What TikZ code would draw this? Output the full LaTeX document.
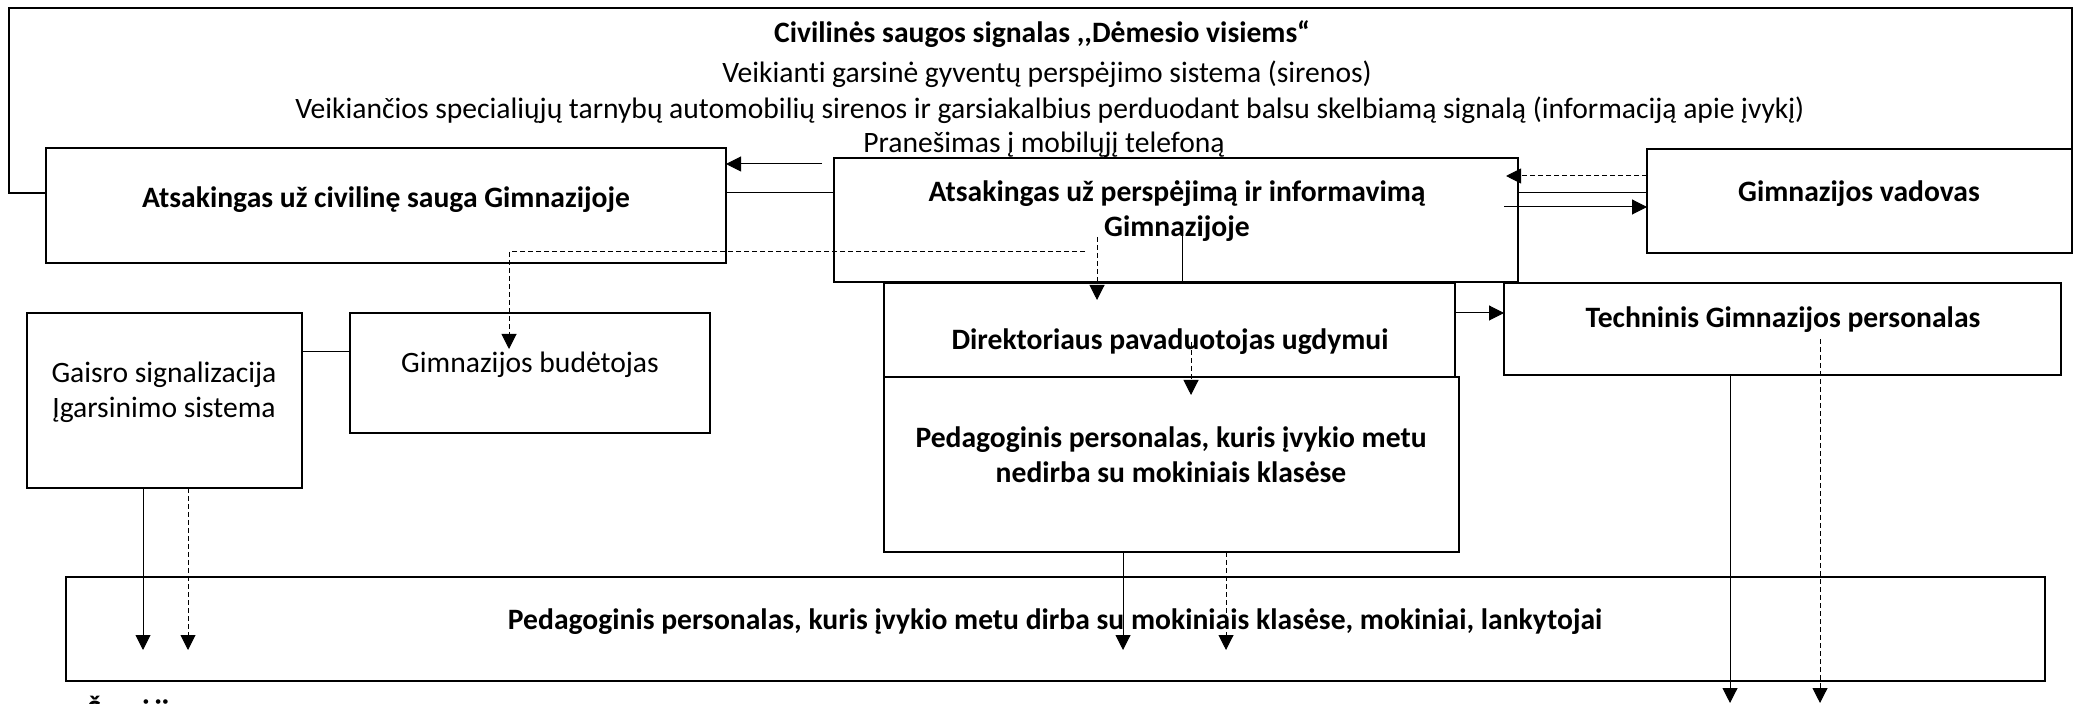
\documentclass[tikz,border=0pt]{standalone}
\usepackage{fontspec}
\setmainfont{Carlito}[Ligatures={TeX,NoCommon}]
\usetikzlibrary{arrows.meta}
\begin{document}
\begin{tikzpicture}[x=0.5pt,y=-0.5pt,
  box/.style={draw, line width=0.75pt, inner sep=0pt, outer sep=0pt, anchor=north west},
  conn/.style={line width=0.5pt},
  dconn/.style={line width=0.5pt, dash pattern=on 2.5pt off 1.5pt},
  arr/.style={-{Triangle[length=7.5pt,width=7.5pt]}},
  lbl/.style={font=\fontsize{14.8}{17.5}\selectfont, align=center, inner sep=0pt},
  blbl/.style={font=\fontsize{14.8}{17.5}\selectfont\bfseries, align=center, inner sep=0pt},
]
\useasboundingbox (0,0) rectangle (2080,704);
% boxes
\node[box, minimum width=340pt, minimum height=57.5pt] (A) at (46,148) {};
\node[box, minimum width=342pt, minimum height=62pt] (B) at (834,158) {};
\node[box, minimum width=212.5pt, minimum height=52pt] (C) at (1647,149) {};
\node[box, minimum width=285.5pt, minimum height=47pt] (D) at (884,283) {};
\node[box, minimum width=287.5pt, minimum height=87.5pt] (E) at (884,377) {};
\node[box, minimum width=278.5pt, minimum height=46pt] (F) at (1504,283) {};
\node[box, minimum width=137.5pt, minimum height=87.5pt] (G) at (27,313) {};
\node[box, minimum width=180pt, minimum height=60pt] (H) at (350,313) {};
\node[box, minimum width=989.5pt, minimum height=52pt] (I) at (66,577) {};
% texts
\node[blbl] (T1) at (1042,34) {Civilinės saugos signalas ,{},Dėmesio visiems“};
\node[lbl] (T2) at (1047,74) {Veikianti garsinė gyventų perspėjimo sistema (sirenos)};
\node[lbl] (T3) at (1050,110) {Veikiančios specialiųjų tarnybų automobilių sirenos ir garsiakalbius perduodant balsu skelbiamą signalą (informaciją apie įvykį)};
\node[lbl] (T4) at (1044,145) {Pranešimas į mobilųjį telefoną};
\node[blbl] (Atxt) at (386,200) {Atsakingas už civilinę sauga Gimnazijoje};
\node[blbl] (Btxt) at (1177,211) {Atsakingas už perspėjimą ir informavimą\\Gimnazijoje};
\node[blbl] (Ctxt) at (1859,194) {Gimnazijos vadovas};
\node[blbl] (Dtxt) at (1170,342) {Direktoriaus pavaduotojas ugdymui};
\node[blbl] (Etxt) at (1171,455) {Pedagoginis personalas, kuris įvykio metu\\nedirba su mokiniais klasėse};
\node[blbl] (Ftxt) at (1783,320) {Techninis Gimnazijos personalas};
\node[lbl] (Gtxt) at (164,392) {Gaisro signalizacija\\Įgarsinimo sistema};
\node[lbl] (Htxt) at (530,365) {Gimnazijos budėtojas};
\node[blbl] (Itxt) at (1055,622) {Pedagoginis personalas, kuris įvykio metu dirba su mokiniais klasėse, mokiniai, lankytojai};
\node[blbl, anchor=base west] (Scut) at (87,720) {Š\hspace{20.5pt}i\hspace{2.5pt}ii};
% coordinates
\coordinate (frameEnd) at (2072,193);
\coordinate (baStart) at (822,164);
\coordinate (cbTip) at (1506,176);
\coordinate (bcStart) at (1504,207);
\coordinate (bhStart) at (1085,252);
\coordinate (hTip) at (509,349);
\coordinate (bdStart) at (1097,237);
\coordinate (dTip) at (1097,300);
\coordinate (bdLine) at (1182,235);
\coordinate (deStart) at (1191,342);
\coordinate (eTip) at (1191,395);
\coordinate (giTip) at (143,650);
\coordinate (giTipD) at (188,650);
\coordinate (eiTip) at (1123,650);
\coordinate (eiTipD) at (1226,650);
\coordinate (fTip) at (1730,703);
\coordinate (fTipD) at (1820,703);
\coordinate (fStartD) at (1820,339);
% connectors
\draw[line width=0.75pt] (A.west |- frameEnd) -- (9,193) -- (9,8) -- (2072,8) -- (frameEnd);
\draw[conn,arr] (baStart) -- (A.east |- baStart);
\draw[conn] (A.east |- 0,193) -- (B.west |- 0,193);
\draw[dconn,arr] (C.west |- cbTip) -- (cbTip);
\draw[conn] (B.east |- 0,193) -- (C.west |- 0,193);
\draw[conn,arr] (bcStart) -- (C.west |- bcStart);
\draw[dconn,arr] (bhStart) -- (hTip |- bhStart) -- (hTip);
\draw[dconn,arr] (bdStart) -- (dTip);
\draw[conn] (bdLine) -- (bdLine |- D.north);
\draw[dconn,arr] (deStart) -- (eTip);
\draw[conn,arr] (D.east |- 0,313) -- (F.west |- 0,313);
\draw[conn] (G.east |- 0,352) -- (H.west |- 0,352);
\draw[conn,arr] (giTip |- G.south) -- (giTip);
\draw[dconn,arr] (giTipD |- G.south) -- (giTipD);
\draw[conn,arr] (eiTip |- E.south) -- (eiTip);
\draw[dconn,arr] (eiTipD |- E.south) -- (eiTipD);
\draw[conn,arr] (fTip |- F.south) -- (fTip);
\draw[dconn,arr] (fStartD) -- (fTipD);
\end{tikzpicture}
\end{document}
